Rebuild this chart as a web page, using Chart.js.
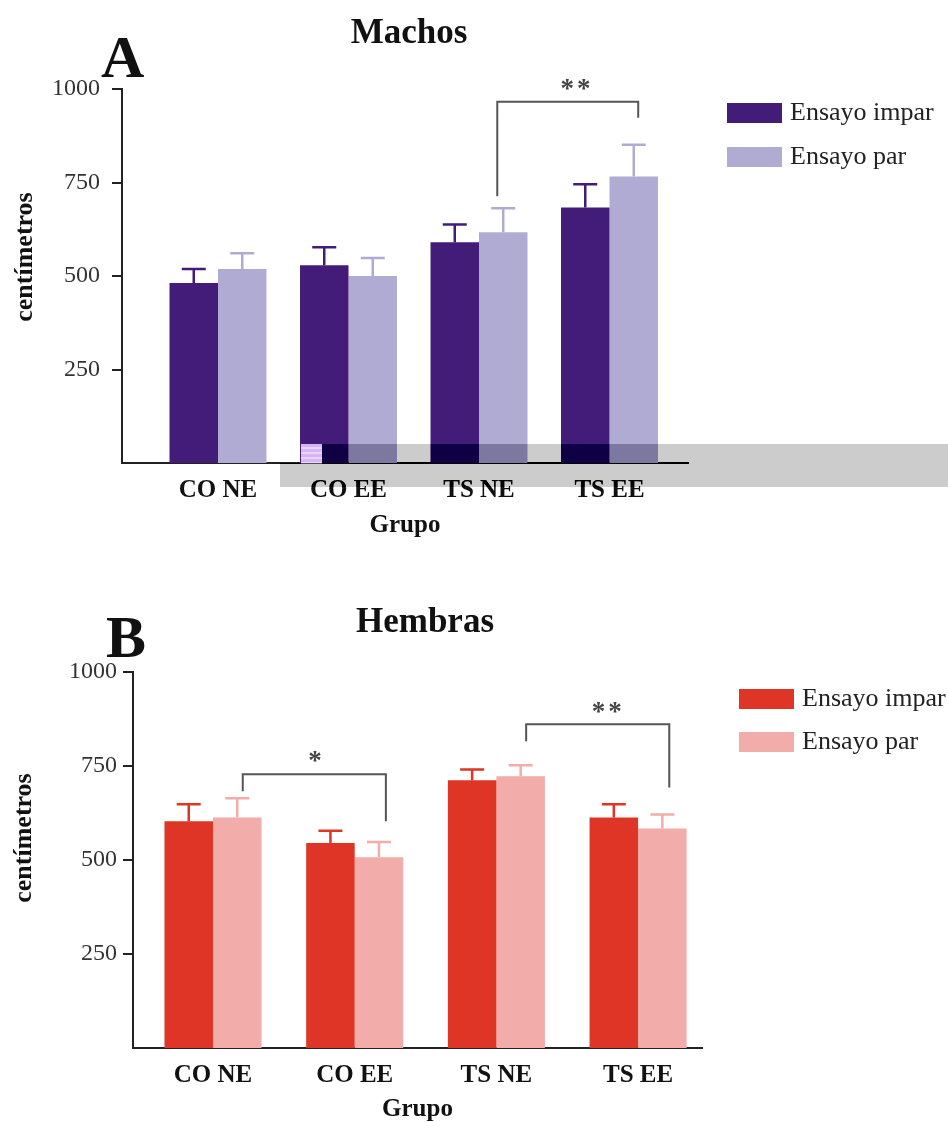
<!DOCTYPE html>
<html>
<head>
<meta charset="utf-8">
<title>Machos / Hembras</title>
<script src="https://cdn.jsdelivr.net/npm/chart.js@4.4.0/dist/chart.umd.min.js"></script>
<style>
  html, body { margin: 0; padding: 0; background: #fff; }
  #wrap { position: relative; width: 948px; height: 1122px; overflow: hidden; }
  canvas { position: absolute; left: 0; }
  #chartA { top: 0; }
  #chartB { top: 561px; }
</style>
</head>
<body>
<div id="wrap">
  <canvas id="chartA" width="948" height="561"></canvas>
  <canvas id="chartB" width="948" height="561"></canvas>
</div>
<script>
const grupos = ["CO NE", "CO EE", "TS NE", "TS EE"];
const yTicks = [250, 500, 750, 1000];
const series = ["Ensayo impar", "Ensayo par"];

// Panel A - Machos (cm, mean and SEM)
const machosImpar = [481, 529, 590, 683];
const machosImparErr = [38, 48, 48, 62];
const machosPar = [519, 500, 617, 766];
const machosParErr = [42, 48, 64, 85];

// Panel B - Hembras
const hembrasImpar = [603, 545, 712, 613];
const hembrasImparErr = [45, 33, 29, 35];
const hembrasPar = [613, 507, 723, 584];
const hembrasParErr = [51, 41, 29, 37];

// significance brackets, x in group units, y in cm
const machosSig = [
  { x1: 2.14, x2: 3.22, top: 966, left: 713, right: 923, label: "**", lx: 2.75, ly: 1011 }
];
const hembrasSig = [
  { x1: 0.21, x2: 1.22, top: 728, left: 683, right: 603, label: "*", lx: 0.73, ly: 773 },
  { x1: 2.21, x2: 3.22, top: 861, left: 816, right: 693, label: "**", lx: 2.79, ly: 904 }
];

const SERIF = "'Liberation Serif', 'DejaVu Serif', serif";
Chart.defaults.font.family = SERIF;

// linear burn (dest - amount) over a rect, to mimic the grey strip of the scan
function burnRect(ctx, x, y, w, h, amount) {
  ctx.save();
  ctx.globalCompositeOperation = "difference";
  ctx.fillStyle = "#fff";
  ctx.fillRect(x, y, w, h);
  ctx.globalCompositeOperation = "lighter";
  ctx.fillStyle = `rgb(${amount},${amount},${amount})`;
  ctx.fillRect(x, y, w, h);
  ctx.globalCompositeOperation = "difference";
  ctx.fillStyle = "#fff";
  ctx.fillRect(x, y, w, h);
  ctx.restore();
}

function decorPlugin(p) {
  return {
    id: "decor",
    beforeDraw(chart) {
      const ctx = chart.ctx;
      ctx.save();
      ctx.fillStyle = "#fff";
      ctx.fillRect(0, 0, chart.width, chart.height);
      ctx.restore();
    },
    afterDatasetsDraw(chart) {
      // error bars (upper half only)
      const ctx = chart.ctx;
      const yScale = chart.scales.y;
      ctx.save();
      ctx.lineWidth = 2.5;
      chart.data.datasets.forEach((ds, di) => {
        const meta = chart.getDatasetMeta(di);
        ctx.strokeStyle = ds.backgroundColor;
        meta.data.forEach((bar, i) => {
          const top = yScale.getPixelForValue(ds.data[i].y + ds.errors[i]);
          ctx.beginPath();
          ctx.moveTo(bar.x, bar.y);
          ctx.lineTo(bar.x, top);
          ctx.moveTo(bar.x - 12, top);
          ctx.lineTo(bar.x + 12, top);
          ctx.stroke();
        });
      });
      ctx.restore();
    },
    afterDraw(chart) {
      const ctx = chart.ctx;
      const xs = chart.scales.x;
      const ys = chart.scales.y;
      ctx.save();

      // panel letter and title
      ctx.fillStyle = "#111";
      ctx.textBaseline = "alphabetic";
      ctx.textAlign = "left";
      ctx.font = `bold 60px ${SERIF}`;
      ctx.fillText(p.letter, p.letterX, p.letterY);
      ctx.textAlign = "center";
      ctx.font = `bold 35px ${SERIF}`;
      ctx.fillText(p.title, p.titleX, p.titleY);

      // y axis title
      ctx.save();
      ctx.translate(p.yTitleX, p.yTitleY);
      ctx.rotate(-Math.PI / 2);
      ctx.textBaseline = "middle";
      ctx.font = `bold 26px ${SERIF}`;
      ctx.fillText("centímetros", 0, 0);
      ctx.restore();

      // legend
      ctx.textAlign = "left";
      ctx.textBaseline = "middle";
      ctx.font = `26px ${SERIF}`;
      chart.data.datasets.forEach((ds, i) => {
        const top = p.legendY + i * p.legendGap;
        ctx.fillStyle = ds.backgroundColor;
        ctx.fillRect(p.legendX, top, 55, 20);
        ctx.fillStyle = "#222";
        ctx.fillText(ds.label, p.legendX + 63, top + 10);
      });

      // significance brackets
      ctx.strokeStyle = "#555";
      ctx.fillStyle = "#444";
      ctx.lineWidth = 2;
      ctx.textAlign = "center";
      ctx.textBaseline = "alphabetic";
      ctx.font = `bold 27px ${SERIF}`;
      ctx.letterSpacing = "3px";
      p.sig.forEach(s => {
        const x1 = xs.getPixelForValue(s.x1);
        const x2 = xs.getPixelForValue(s.x2);
        const yt = ys.getPixelForValue(s.top);
        ctx.beginPath();
        ctx.moveTo(x1, ys.getPixelForValue(s.left));
        ctx.lineTo(x1, yt);
        ctx.lineTo(x2, yt);
        ctx.lineTo(x2, ys.getPixelForValue(s.right));
        ctx.stroke();
        ctx.fillText(s.label, xs.getPixelForValue(s.lx), ys.getPixelForValue(s.ly) + 12);
      });
      ctx.letterSpacing = "0px";
      ctx.restore();

      if (p.scanStrip) p.scanStrip(ctx);
    }
  };
}

function buildChart(canvasId, p) {
  return new Chart(document.getElementById(canvasId), {
    type: "bar",
    data: {
      datasets: [
        {
          label: series[0],
          data: p.impar.map((v, i) => ({ x: i, y: v })),
          errors: p.imparErr,
          backgroundColor: p.colors[0],
          categoryPercentage: p.catPct,
          barPercentage: 1
        },
        {
          label: series[1],
          data: p.par.map((v, i) => ({ x: i, y: v })),
          errors: p.parErr,
          backgroundColor: p.colors[1],
          categoryPercentage: p.catPct,
          barPercentage: 1
        }
      ]
    },
    options: {
      responsive: false,
      animation: false,
      devicePixelRatio: 1,
      layout: { padding: p.padding },
      plugins: {
        legend: { display: false },
        tooltip: { enabled: false }
      },
      scales: {
        x: {
          type: "linear",
          bounds: "data",
          offset: false,
          min: p.xMin,
          max: p.xMax,
          afterBuildTicks: s => { s.ticks = grupos.map((g, i) => ({ value: i })); },
          afterFit: s => { s.height = p.xHeight; },
          grid: { display: false, drawTicks: false, offset: false },
          border: { display: true, color: "#222", width: 2 },
          ticks: {
            callback: v => grupos[v],
            padding: 13,
            autoSkip: false,
            maxRotation: 0,
            color: "#111",
            font: { size: 25, weight: "bold" }
          },
          title: {
            display: true,
            text: "Grupo",
            color: "#111",
            padding: 0,
            font: { size: 25, weight: "bold", lineHeight: 1 }
          }
        },
        y: {
          min: 0,
          max: 1000,
          afterBuildTicks: s => { s.ticks = yTicks.map(v => ({ value: v })); },
          afterFit: s => { s.width = p.yWidth; },
          grid: { drawOnChartArea: false, drawTicks: true, tickLength: 10, color: "#222", lineWidth: 2 },
          border: { display: true, color: "#222", width: 2 },
          ticks: {
            callback: v => String(v),
            padding: p.yPad,
            color: "#333",
            font: { size: 24 }
          }
        }
      }
    },
    plugins: [decorPlugin(p)]
  });
}

buildChart("chartA", {
  impar: machosImpar, imparErr: machosImparErr,
  par: machosPar, parErr: machosParErr,
  colors: ["#421c78", "#b0abd2"],
  sig: machosSig,
  catPct: 0.743,
  xMin: -0.7356, xMax: 3.6015,
  padding: { top: 89, left: 0, right: 260, bottom: 22.5 },
  xHeight: 75.5, yWidth: 122, yPad: 12,
  letter: "A", letterX: 101, letterY: 77,
  title: "Machos", titleX: 409, titleY: 43,
  yTitleX: 25, yTitleY: 257,
  legendX: 727, legendY: 103, legendGap: 44,
  scanStrip(ctx) {
    ctx.save();
    ctx.fillStyle = "#d6b4f6";
    ctx.fillRect(301, 444, 21, 19);
    ctx.fillStyle = "rgba(255,255,255,0.45)";
    for (let y = 447; y < 463; y += 5) ctx.fillRect(301, y, 21, 2);
    ctx.restore();
    burnRect(ctx, 322, 444, 626, 19, 51);
    burnRect(ctx, 280, 463, 668, 24, 51);
  }
});

buildChart("chartB", {
  impar: hembrasImpar, imparErr: hembrasImparErr,
  par: hembrasPar, parErr: hembrasParErr,
  colors: ["#de3526", "#f2acaa"],
  sig: hembrasSig,
  catPct: 0.685,
  xMin: -0.5646, xMax: 3.451,
  padding: { top: 111, left: 0, right: 246, bottom: 0 },
  xHeight: 74, yWidth: 133, yPad: 6,
  letter: "B", letterX: 106, letterY: 96,
  title: "Hembras", titleX: 425, titleY: 71,
  yTitleX: 24, yTitleY: 277,
  legendX: 739, legendY: 128, legendGap: 43
});
</script>
</body>
</html>
